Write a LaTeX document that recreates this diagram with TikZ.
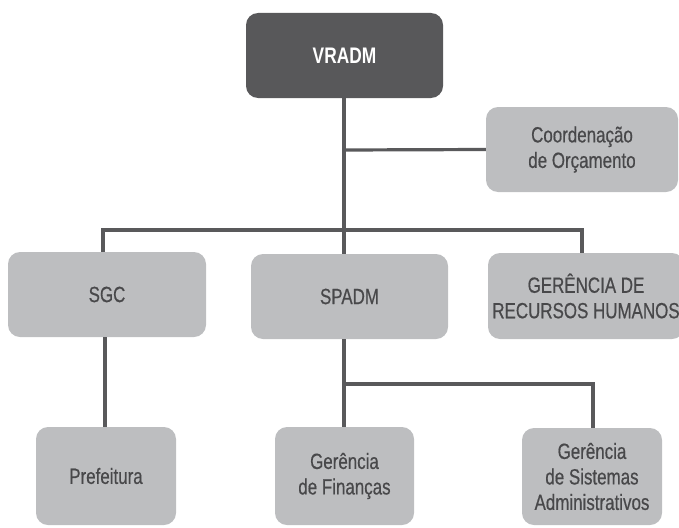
\documentclass[tikz,border=0pt]{standalone}
\usepackage{fontspec}
\setmainfont[FakeStretch=0.77]{Liberation Sans}
\newfontfamily\boxfont[FakeStretch=0.77,FakeBold=0.5]{Liberation Sans}
\definecolor{boxgray}{HTML}{BDBEC0}
\definecolor{darkbox}{HTML}{58585A}
\definecolor{txtgray}{HTML}{48484A}
\definecolor{linegray}{HTML}{59595B}
\begin{document}
\begin{tikzpicture}[x=1pt,y=-1pt,
  box/.style={rounded corners=12pt, fill=boxgray, text=txtgray, align=center,
    inner sep=0pt, font=\boxfont\fontsize{22}{25.5}\selectfont},
  topbox/.style={box, fill=darkbox, text=white, font=\bfseries\fontsize{22.5}{25.5}\selectfont},
  conn/.style={draw=linegray, line width=3.2pt}]
\useasboundingbox (0,0) rectangle (679,527);
\node[topbox, minimum width=197pt, minimum height=85pt] (vradm) at (344.5,55.5) {VRADM};
\node[box, minimum width=192pt, minimum height=85pt] (coord) at (582,149.5) {Coordenação\\de Orçamento};
\node[box, minimum width=198pt, minimum height=85pt] (sgc) at (107,294.5) {SGC};
\node[box, minimum width=197pt, minimum height=85pt] (spadm) at (349.5,296.5) {SPADM};
\node[box, minimum width=196pt, minimum height=86pt] (grh) at (586,296) {GERÊNCIA DE\\RECURSOS HUMANOS};
\node[box, minimum width=140pt, minimum height=98pt] (pref) at (106,476) {Prefeitura};
\node[box, minimum width=139pt, minimum height=98pt] (fin) at (344.5,476) {Gerência\\de Finanças};
\node[box, minimum width=140pt, minimum height=97pt] (sis) at (592,476.5) {Gerência\\de Sistemas\\Administrativos};
\coordinate (trunk) at (344,98);
\coordinate (cjoin) at (344,150);
\coordinate (busL) at (103,230);
\coordinate (busR) at (582,230);
\coordinate (sgcdown) at (105,337);
\coordinate (spdown) at (344,339);
\coordinate (fjoin) at (344,384);
\coordinate (sjoin) at (593,384);
\draw[conn] (trunk) -- (trunk |- spadm.north);
\draw[conn] (cjoin) -- (coord.west);
\draw[conn] (busL |- sgc.north) -- (busL) -- (busR) -- (busR |- grh.north);
\draw[conn] (sgcdown) -- (sgcdown |- pref.north);
\draw[conn] (spdown) -- (spdown |- fin.north);
\draw[conn] (fjoin) -- (sjoin) -- (sjoin |- sis.north);
\end{tikzpicture}
\end{document}
